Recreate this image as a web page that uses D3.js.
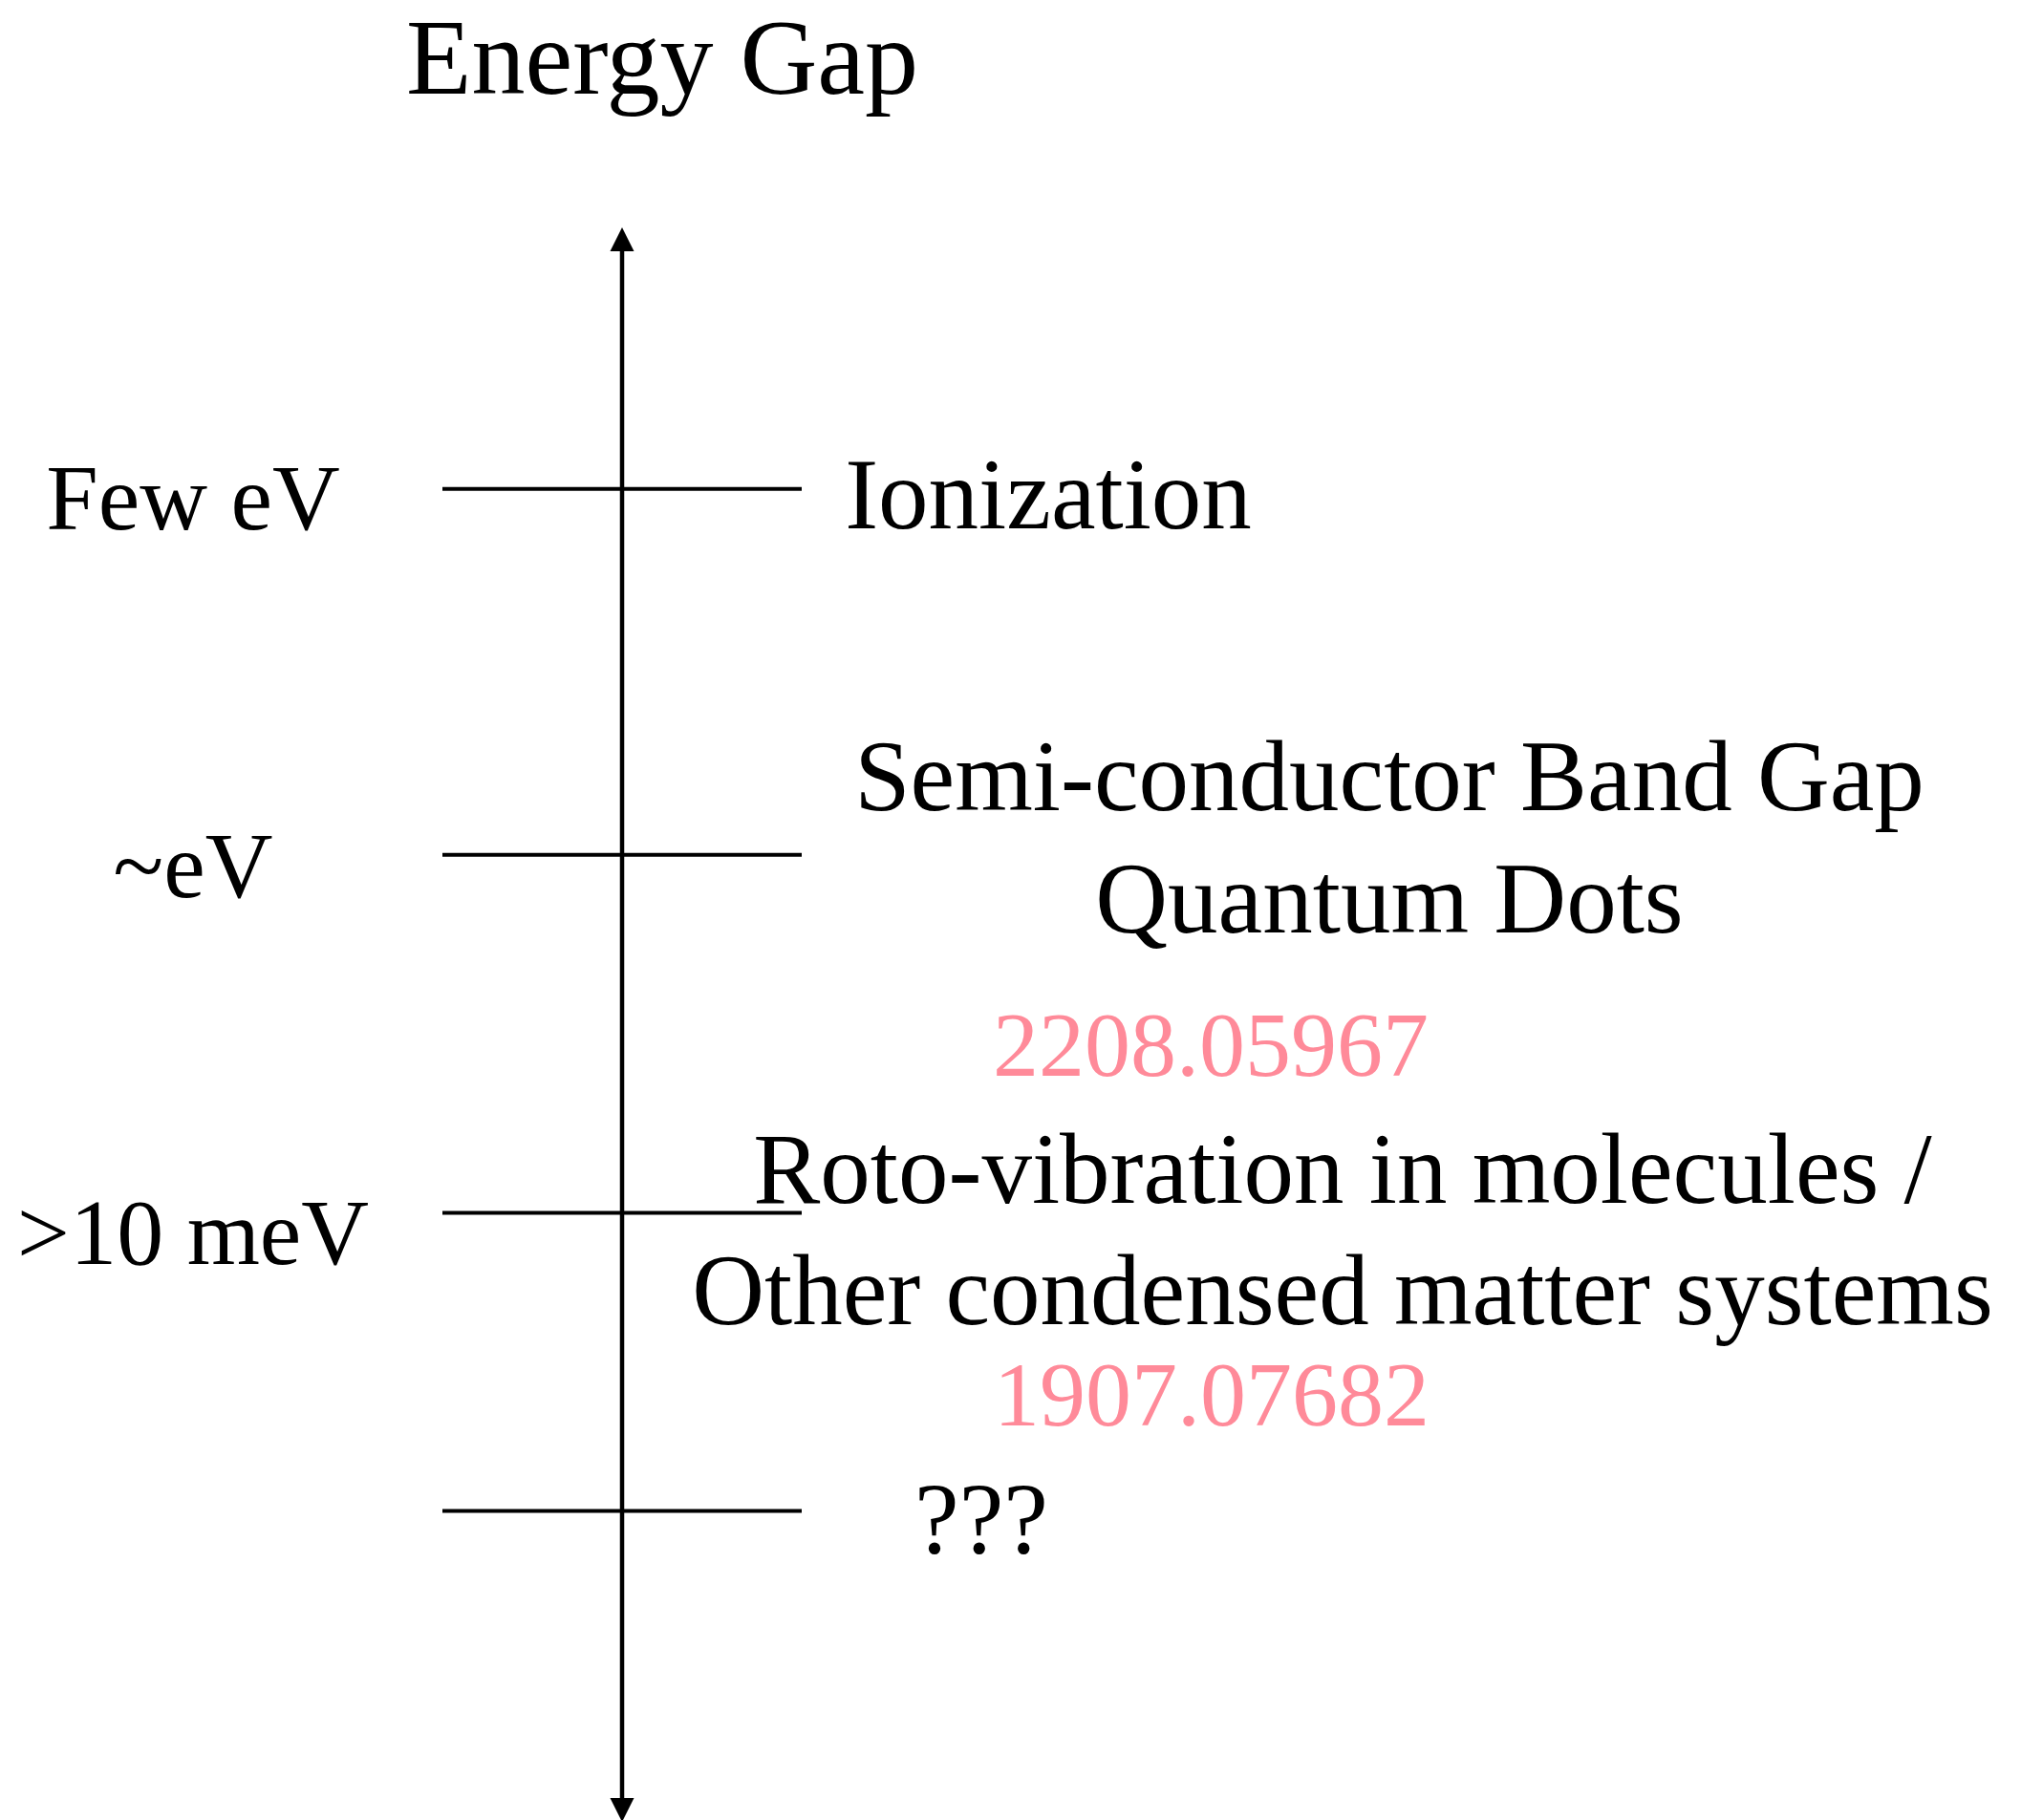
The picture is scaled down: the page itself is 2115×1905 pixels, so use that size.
<!DOCTYPE html>
<html>
<head>
<meta charset="utf-8">
<script src="https://cdn.jsdelivr.net/npm/d3@7"></script>
<style>
  html, body { margin: 0; padding: 0; background: #fff; }
  svg { display: block; }
  text { font-family: "Liberation Serif", "DejaVu Serif", serif; }
</style>
</head>
<body>
<svg id="chart"></svg>
<script>
// levels along the energy axis (0 = bottom of arrow, 100 = top)
const levelPos = [83.6, 60.65, 38.2, 19.5];
const levelNames = ["Few eV", "~eV", ">10 meV", ""];
const levelNamePos = [81.05, 58.0, 35.0, 0];

const descText = [
  "Ionization",
  "Semi-conductor Band Gap",
  "Quantum Dots",
  "2208.05967",
  "Roto-vibration in molecules /",
  "Other condensed matter systems",
  "1907.07682",
  "???"
];
const descPos = [81.1, 63.45, 55.8, 46.8, 38.85, 31.2, 24.85, 16.85];
const descCenter = [1097, 1454, 1454, 1267, 1405, 1405, 1268, 1027];
const descIsRef = [false, false, false, true, false, false, true, false];

const W = 2115, H = 1905;
const axisX = 651;
const tickHalf = 188;
const labelX = 202;

const svg = d3.select('#chart')
  .attr('width', W)
  .attr('height', H);

const y = d3.scaleLinear()
  .domain([0, 100])
  .range([1907, 238]);

// title
svg.append('text')
  .attr('x', 693)
  .attr('y', 98)
  .attr('text-anchor', 'middle')
  .attr('font-size', 112)
  .attr('fill', 'black')
  .text('Energy Gap');

// main axis with arrow heads
const head = 25;
svg.append('line')
  .attr('x1', axisX).attr('x2', axisX)
  .attr('y1', y(100) + head - 2)
  .attr('y2', y(0) - head + 2)
  .attr('stroke', 'black')
  .attr('stroke-width', 4.5);

svg.append('path')
  .attr('d', `M${axisX},${y(100)} L${axisX - head / 2},${y(100) + head} L${axisX + head / 2},${y(100) + head} Z`)
  .attr('fill', 'black');

svg.append('path')
  .attr('d', `M${axisX},${y(0)} L${axisX - head / 2},${y(0) - head} L${axisX + head / 2},${y(0) - head} Z`)
  .attr('fill', 'black');

// level ticks
svg.selectAll('.tick-line')
  .data(levelPos)
  .enter()
  .append('line')
  .attr('class', 'tick-line')
  .attr('x1', axisX - tickHalf)
  .attr('x2', axisX + tickHalf)
  .attr('y1', d => y(d))
  .attr('y2', d => y(d))
  .attr('stroke', 'black')
  .attr('stroke-width', 4);

// energy labels on the left
svg.selectAll('.level-name')
  .data(levelNames.map((n, i) => ({ name: n, pos: levelNamePos[i] })).filter(d => d.name))
  .enter()
  .append('text')
  .attr('class', 'level-name')
  .attr('x', labelX)
  .attr('y', d => y(d.pos))
  .attr('text-anchor', 'middle')
  .attr('font-size', 98)
  .attr('fill', 'black')
  .text(d => d.name);

// descriptions on the right
svg.selectAll('.desc')
  .data(descText.map((t, i) => ({ text: t, pos: descPos[i], cx: descCenter[i], ref: descIsRef[i] })))
  .enter()
  .append('text')
  .attr('class', 'desc')
  .attr('x', d => d.cx)
  .attr('y', d => y(d.pos))
  .attr('text-anchor', 'middle')
  .attr('font-size', d => d.ref ? 96 : 105)
  .attr('fill', d => d.ref ? '#ff8a99' : 'black')
  .text(d => d.text);
</script>
</body>
</html>
